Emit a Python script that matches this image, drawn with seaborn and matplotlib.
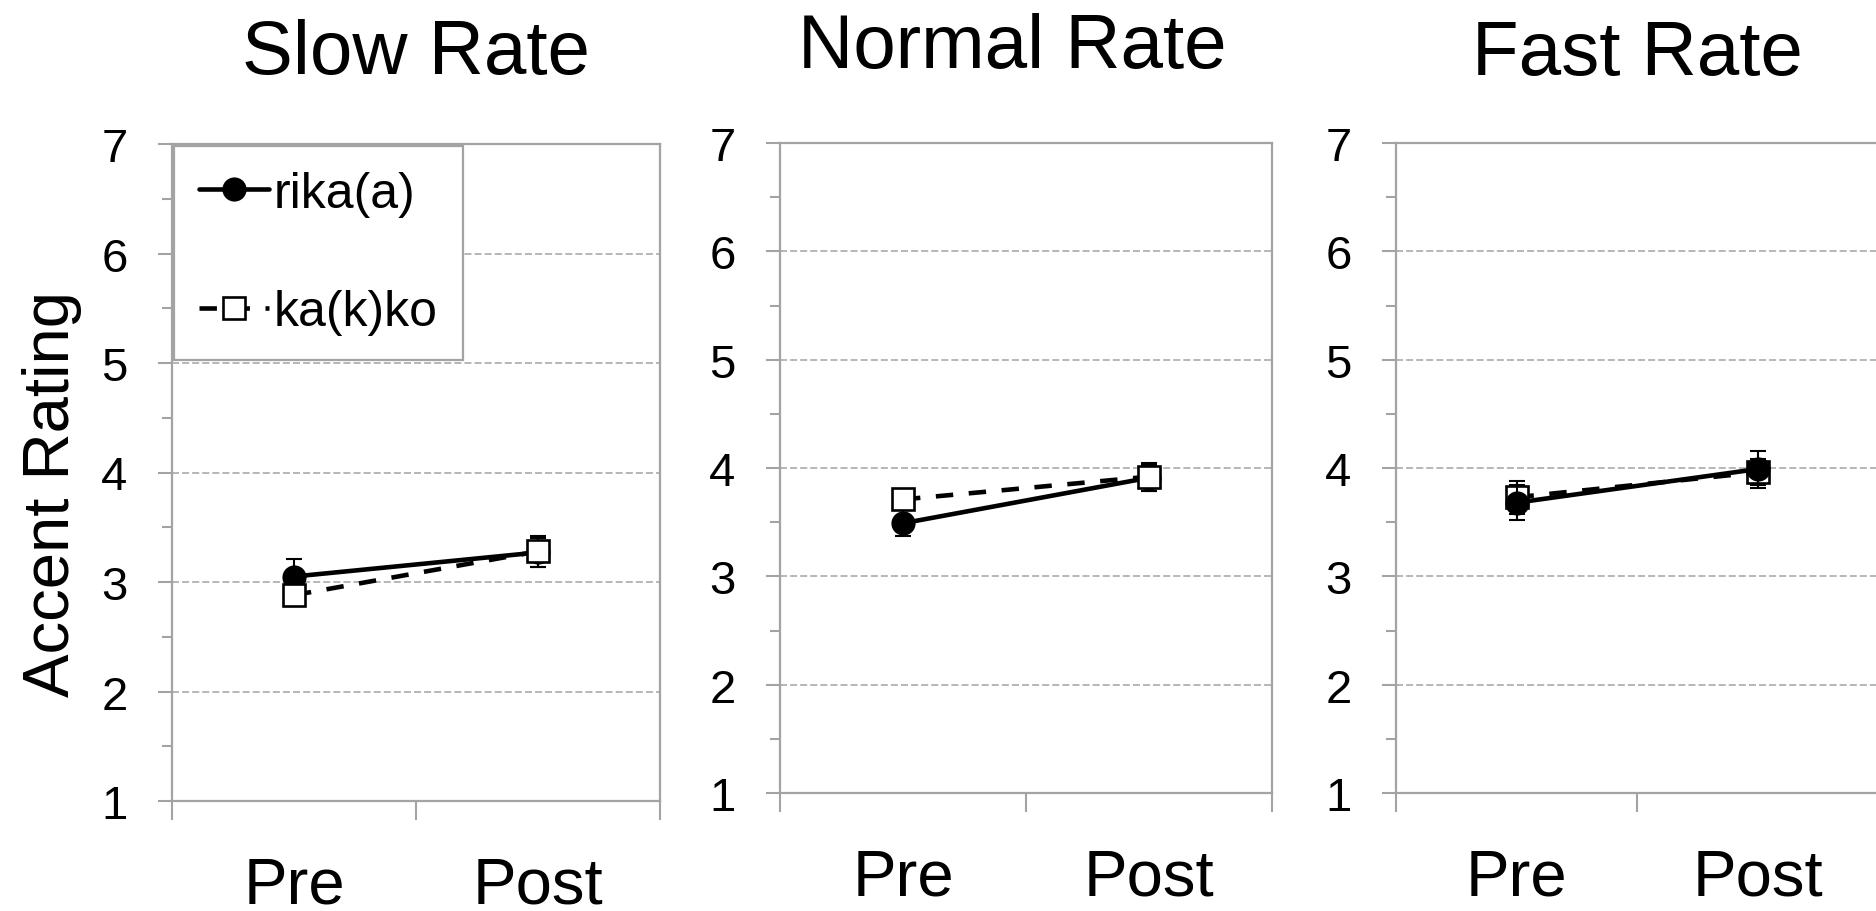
import numpy as np
import pandas as pd
import matplotlib
matplotlib.use('Agg')
import matplotlib.pyplot as plt
from matplotlib.ticker import FixedLocator, NullFormatter
import seaborn as sns

# ---- data ----
rates = ['Slow Rate', 'Normal Rate', 'Fast Rate']
phases = ['Pre', 'Post']
words = ['rika(a)', 'ka(k)ko']

rika_mean = [[3.05, 3.27], [3.49, 3.91], [3.68, 3.99]]
rika_err = [[0.16, 0.13], [0.12, 0.12], [0.16, 0.17]]
kakko_mean = [[2.88, 3.28], [3.71, 3.92], [3.73, 3.96]]
kakko_err = [[0.10, 0.14], [0.09, 0.13], [0.15, 0.12]]

y_ticks = [1, 2, 3, 4, 5, 6, 7]

# ---- style ----
sns.set_style('white')
plt.rcParams['font.family'] = ['Liberation Sans', 'DejaVu Sans']
plt.rcParams['text.color'] = 'black'
plt.rcParams['axes.labelcolor'] = 'black'
GRAY = '#a3a3a3'

rows = []
for r, rate in enumerate(rates):
    for p, phase in enumerate(phases):
        rows.append((rate, phase, words[0], rika_mean[r][p], rika_err[r][p]))
        rows.append((rate, phase, words[1], kakko_mean[r][p], kakko_err[r][p]))
df = pd.DataFrame(rows, columns=['rate', 'phase', 'word', 'rating', 'err'])

series_style = {
    'rika(a)': dict(marker='o', markerfacecolor='black', linestyle='-'),
    'ka(k)ko': dict(marker='s', markerfacecolor='white', linestyle=(0, (3.8, 3.4))),
}
# which series sits on top in each panel
front = ['ka(k)ko', 'ka(k)ko', 'rika(a)']

# axes boxes in figure fraction [left, bottom, width, height]
boxes = [
    [172 / 1876, 110 / 912, 488 / 1876, 657 / 912],
    [780 / 1876, 118 / 912, 492 / 1876, 650 / 912],
    [1396 / 1876, 118 / 912, 482 / 1876, 650 / 912],
]
title_pads = [51, 55, 50]
title_x = [0.5, 0.4715, 0.5]

fig = plt.figure(figsize=(18.76, 9.12), dpi=100)

for i, rate in enumerate(rates):
    ax = fig.add_axes(boxes[i])
    sub = df[df['rate'] == rate]
    for w in words:
        d = sub[sub['word'] == w]
        z = 4 if w == front[i] else 3
        st = series_style[w]
        sns.lineplot(data=d, x='phase', y='rating', ax=ax, color='black',
                     linewidth=3.3, marker=st['marker'], markersize=15.5,
                     markerfacecolor=st['markerfacecolor'], markeredgecolor='black',
                     markeredgewidth=1.9, linestyle=st['linestyle'],
                     errorbar=None, sort=False, label=w, zorder=z)
        ax.errorbar(d['phase'], d['rating'], yerr=d['err'], fmt='none',
                    ecolor='black', elinewidth=1.5, capsize=6, capthick=1.5,
                    zorder=z - 0.5)

    ax.set_xlim(-0.5, 1.5)
    ax.set_ylim(1, 7)

    # x axis: boundary ticks, labels centred on the categories
    ax.xaxis.set_major_locator(FixedLocator([-0.5, 0.5, 1.5]))
    ax.xaxis.set_major_formatter(NullFormatter())
    ax.xaxis.set_minor_locator(FixedLocator([0, 1]))
    ax.set_xticklabels(phases, minor=True)
    ax.tick_params(axis='x', which='major', direction='out', length=14,
                   width=1.5, color=GRAY, bottom=True)
    ax.tick_params(axis='x', which='minor', length=0, pad=39, labelsize=47,
                   labelcolor='black')

    # y axis
    ax.set_yticks(y_ticks)
    ax.yaxis.set_minor_locator(FixedLocator(np.arange(1.5, 7, 1.0)))
    ax.tick_params(axis='y', which='major', direction='out', length=10,
                   width=1.5, color=GRAY, left=True, labelsize=34, pad=22,
                   labelcolor='black')
    ax.tick_params(axis='y', which='minor', direction='out', length=7,
                   width=1.5, color=GRAY, left=True)

    ax.yaxis.grid(True, which='major', color=GRAY, linestyle=(0, (4.6, 2)),
                  linewidth=1.1)
    ax.xaxis.grid(False)
    ax.set_axisbelow(True)
    for sp in ax.spines.values():
        sp.set_visible(True)
        sp.set_color(GRAY)
        sp.set_linewidth(1.6)

    ax.set_xlabel('')
    if i == 0:
        ax.set_ylabel('Accent Rating', fontsize=47)
        ax.yaxis.set_label_coords(-0.185, 0.469)
        leg = ax.legend(loc='upper left', bbox_to_anchor=(0.004, 0.997),
                        borderaxespad=0, fontsize=36, frameon=True,
                        fancybox=False, framealpha=1, edgecolor=GRAY,
                        labelspacing=1.45, borderpad=0.5, handlelength=1.4,
                        handletextpad=0.1)
        leg.get_frame().set_linewidth(1.6)
        leg.set_zorder(10)
    else:
        ax.set_ylabel('')
        ax.get_legend().remove()

    ax.set_title(rate, fontsize=55, pad=title_pads[i], x=title_x[i])

fig.savefig('out.png', dpi=100)
